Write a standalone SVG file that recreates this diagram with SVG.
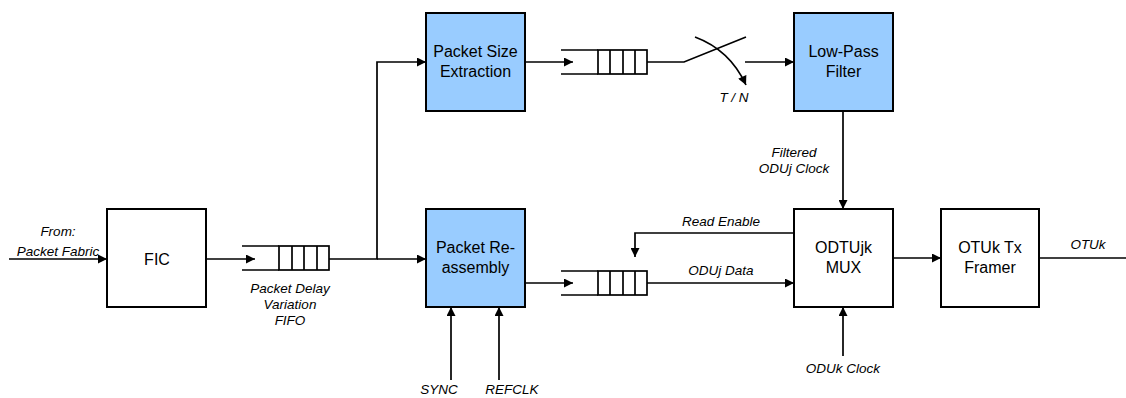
<svg xmlns="http://www.w3.org/2000/svg" width="1126" height="398" viewBox="0 0 1126 398">
<defs>
<marker id="ah" viewBox="0 0 10 10" refX="10" refY="5" markerWidth="10" markerHeight="9" markerUnits="userSpaceOnUse" orient="auto">
<path d="M0,0 L10,5 L0,10 Z" fill="#000"/>
</marker>
<style>
.box{stroke:#000;stroke-width:2;fill:#fff}
.blue{fill:#99ccff}
.t{font-family:"Liberation Sans",Arial,sans-serif;font-size:16px;text-anchor:middle;fill:#000}
.l{font-family:"Liberation Sans",Arial,sans-serif;font-size:13.5px;font-style:italic;text-anchor:middle;fill:#000}
.w{stroke:#000;stroke-width:1.7;fill:none}
.q{stroke:#000;stroke-width:1.7;fill:#fff}
</style>
</defs>
<rect width="1126" height="398" fill="#fff"/>
<g id="connectors">
<path class="w" d="M9,259 H107" marker-end="url(#ah)"/>
<path class="w" d="M206,259 H255" marker-end="url(#ah)"/>
<path class="w" d="M329,259 H377 V62 H426" marker-end="url(#ah)"/>
<path class="w" d="M377,259 H426" marker-end="url(#ah)"/>
<path class="w" d="M525,62 H573" marker-end="url(#ah)"/>
<path class="w" d="M647,62 H684 L746,37"/>
<path class="w" d="M695,37 Q730,50 746,85" marker-end="url(#ah)"/>
<path class="w" d="M745,62 H794" marker-end="url(#ah)"/>
<path class="w" d="M843,111 V209" marker-end="url(#ah)"/>
<path class="w" d="M525,283 H573" marker-end="url(#ah)"/>
<path class="w" d="M794,233 H635 V257" marker-end="url(#ah)"/>
<path class="w" d="M647,283 H794" marker-end="url(#ah)"/>
<path class="w" d="M451,380 V307" marker-end="url(#ah)"/>
<path class="w" d="M499,380 V307" marker-end="url(#ah)"/>
<path class="w" d="M843,356 V307" marker-end="url(#ah)"/>
<path class="w" d="M893,258 H941" marker-end="url(#ah)"/>
<path class="w" d="M1039,258 H1126"/>
</g>
<g id="fifo1">
<path class="w" d="M242,246 H279 M242,270 H279"/>
<rect class="q" x="279" y="246" width="50" height="24"/>
<path class="w" d="M292,246 V270 M304,246 V270 M317,246 V270"/>
<text class="l" x="290" y="293">Packet Delay</text>
<text class="l" x="290" y="309">Variation</text>
<text class="l" x="290" y="325">FIFO</text>
</g>
<g id="fifo2">
<path class="w" d="M561,50 H598 M561,74 H598"/>
<rect class="q" x="598" y="50" width="49" height="24"/>
<path class="w" d="M610,50 V74 M623,50 V74 M635,50 V74"/>
</g>
<g id="fifo3">
<path class="w" d="M561,271 H598 M561,295 H598"/>
<rect class="q" x="598" y="271" width="49" height="24"/>
<path class="w" d="M610,271 V295 M623,271 V295 M635,271 V295"/>
</g>
<g id="fic">
<rect class="box" x="107" y="209" width="99" height="98"/>
<text class="t" x="157" y="265">FIC</text>
</g>
<g id="pse">
<rect class="box blue" x="426" y="13" width="99" height="98"/>
<text class="t" x="475.500" y="57">Packet Size</text>
<text class="t" x="475.500" y="77">Extraction</text>
</g>
<g id="pra">
<rect class="box blue" x="426" y="209" width="99" height="98"/>
<text class="t" x="475.500" y="253">Packet Re-</text>
<text class="t" x="475.500" y="273">assembly</text>
</g>
<g id="lpf">
<rect class="box blue" x="794" y="13" width="99" height="98"/>
<text class="t" x="843.500" y="57">Low-Pass</text>
<text class="t" x="843.500" y="77">Filter</text>
</g>
<g id="mux">
<rect class="box" x="794" y="209" width="99" height="98"/>
<text class="t" x="843.500" y="253">ODTUjk</text>
<text class="t" x="843.500" y="273">MUX</text>
</g>
<g id="framer">
<rect class="box" x="941" y="209" width="98" height="98"/>
<text class="t" x="990" y="253">OTUk Tx</text>
<text class="t" x="990" y="273">Framer</text>
</g>
<g id="labels">
<text class="l" x="58" y="236">From:</text>
<text class="l" x="58" y="256">Packet Fabric</text>
<text class="l" x="734" y="102">T / N</text>
<text class="l" x="794" y="157">Filtered</text>
<text class="l" x="794" y="173">ODUj Clock</text>
<text class="l" x="721" y="226">Read Enable</text>
<text class="l" x="721" y="275">ODUj Data</text>
<text class="l" x="1088" y="249">OTUk</text>
<text class="l" x="843" y="373">ODUk Clock</text>
<text class="l" x="439" y="394">SYNC</text>
<text class="l" x="512" y="394">REFCLK</text>
</g>
</svg>
